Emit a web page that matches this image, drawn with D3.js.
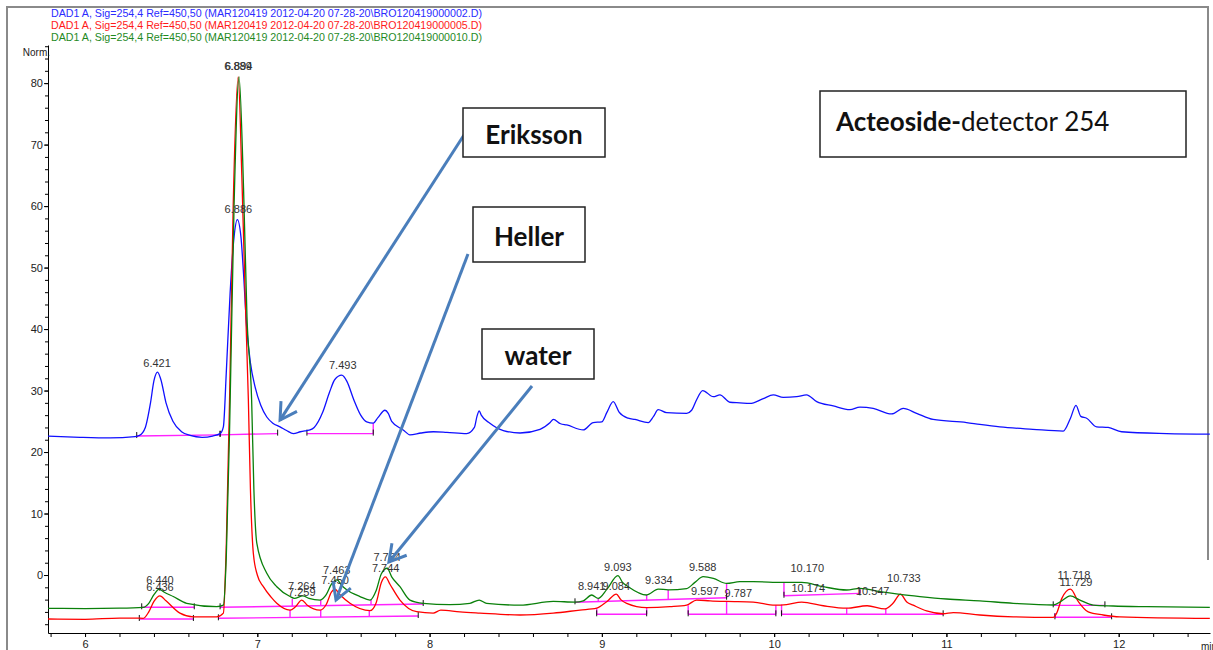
<!DOCTYPE html>
<html>
<head>
<meta charset="utf-8">
<script src="https://cdn.jsdelivr.net/npm/d3@7"></script>
<style>
  html, body { margin: 0; padding: 0; background: #fff; overflow: hidden; }
  svg { display: block; font-family: "Liberation Sans", Arial, sans-serif; }
</style>
</head>
<body>
<div id="app"></div>
<script>
// Header lines, one per run
var runFiles = [
  "DAD1 A, Sig=254,4 Ref=450,50 (MAR120419 2012-04-20 07-28-20\\BRO120419000002.D)",
  "DAD1 A, Sig=254,4 Ref=450,50 (MAR120419 2012-04-20 07-28-20\\BRO120419000005.D)",
  "DAD1 A, Sig=254,4 Ref=450,50 (MAR120419 2012-04-20 07-28-20\\BRO120419000010.D)"
];

// Traces: [time (min), signal (Norm.)]
var blueTrace = [
  [5.785, 22.6], [5.971, 22.4], [6.145, 22.3], [6.290, 22.5], [6.316, 22.7],
  [6.35, 24.0], [6.38, 28.0], [6.40, 31.6], [6.421, 33.0], [6.44, 31.8],
  [6.47, 28.0], [6.51, 25.0], [6.56, 23.3], [6.61, 22.7], [6.68, 22.4],
  [6.74, 22.6], [6.784, 23.0], [6.803, 24.1], [6.82, 33], [6.842, 45.8],
  [6.865, 55], [6.884, 57.8], [6.905, 55], [6.92, 49], [6.938, 40.4],
  [6.96, 34.5], [6.987, 30.6], [7.02, 27.6], [7.055, 25.7], [7.09, 24.7],
  [7.132, 24.1], [7.17, 23.5], [7.209, 23.0], [7.25, 23.3], [7.287, 23.5],
  [7.306, 23.6], [7.33, 24.0], [7.38, 26.5], [7.42, 29.8], [7.45, 31.8],
  [7.49, 32.5], [7.52, 31.5], [7.56, 28.5], [7.60, 26.0], [7.635, 24.9],
  [7.673, 24.7], [7.70, 25.6], [7.741, 26.8], [7.76, 26.3], [7.78, 25.0],
  [7.847, 23.6], [7.886, 22.8], [7.95, 23.1], [8.022, 23.3], [8.10, 23.2],
  [8.215, 23.0], [8.26, 24.0], [8.275, 25.8], [8.288, 26.7], [8.30, 26.0],
  [8.350, 24.7], [8.428, 23.5], [8.525, 23.1], [8.641, 23.7], [8.70, 24.8],
  [8.718, 25.3], [8.76, 24.6], [8.796, 24.4], [8.892, 23.6], [8.950, 24.8],
  [8.999, 24.9], [9.03, 26.5], [9.066, 28.2], [9.10, 26.5], [9.153, 25.5],
  [9.192, 25.3], [9.269, 24.8], [9.30, 25.8], [9.327, 26.9], [9.376, 26.4],
  [9.492, 26.3], [9.521, 26.8], [9.55, 28.5], [9.585, 30.0], [9.647, 29.0],
  [9.685, 29.3], [9.743, 28.1], [9.801, 28.0], [9.859, 27.9], [9.937, 28.7],
  [9.995, 29.3], [10.053, 28.9], [10.131, 29.0], [10.188, 29.3], [10.247, 28.2],
  [10.343, 27.5], [10.440, 26.9], [10.498, 27.3], [10.575, 27.1], [10.682, 26.2],
  [10.749, 27.1], [10.827, 26.3], [10.923, 25.3], [11.117, 24.8], [11.194, 24.5],
  [11.310, 24.1], [11.502, 23.7], [11.678, 23.4], [11.72, 25.5], [11.752, 27.6],
  [11.78, 25.8], [11.814, 25.5], [11.872, 24.1], [11.939, 24.0], [12.017, 23.3],
  [12.278, 23.0], [12.529, 22.9]
];

var redTrace = [
  [5.785, -7.15], [6.0, -7.2], [6.2, -7.0], [6.30, -7.0], [6.338, -7.04],
  [6.37, -6.0], [6.40, -4.3], [6.435, -3.4], [6.47, -4.2], [6.551, -6.2],
  [6.629, -6.8], [6.764, -6.8], [6.803, -6.2], [6.82, 5], [6.84, 30],
  [6.86, 60], [6.889, 81], [6.91, 65], [6.93, 45], [6.948, 28.5],
  [6.96, 14], [6.977, 3.5], [7.00, 0.0], [7.035, -1.9], [7.08, -3.6],
  [7.113, -4.6], [7.190, -5.7], [7.22, -5.2], [7.258, -4.07], [7.29, -4.9],
  [7.364, -5.7], [7.40, -4.8], [7.43, -2.8], [7.45, -2.3], [7.48, -3.2],
  [7.538, -4.6], [7.654, -5.8], [7.69, -4.5], [7.72, -1.2], [7.744, -0.3],
  [7.77, -1.5], [7.828, -4.07], [7.925, -5.97], [8.021, -6.2], [8.065, -5.7],
  [8.176, -6.0], [8.292, -6.2], [8.525, -6.5], [8.718, -6.2], [8.873, -5.7],
  [8.970, -5.4], [9.03, -4.3], [9.084, -3.1], [9.11, -4.0], [9.144, -4.6],
  [9.260, -5.3], [9.395, -5.15], [9.492, -4.9], [9.550, -4.07], [9.628, -4.2],
  [9.724, -4.3], [9.879, -4.4], [10.005, -4.9], [10.072, -4.8], [10.160, -4.4],
  [10.285, -5.0], [10.421, -5.4], [10.540, -5.0], [10.643, -5.5], [10.69, -4.6],
  [10.733, -3.1], [10.77, -4.4], [10.807, -4.9], [10.885, -5.85], [10.981, -6.3],
  [11.040, -6.1], [11.194, -6.5], [11.388, -6.8], [11.620, -6.9], [11.640, -6.2],
  [11.67, -3.8], [11.72, -2.3], [11.765, -4.3], [11.823, -6.0], [11.910, -6.5],
  [12.007, -6.8], [12.529, -7.05]
];

var greenTrace = [
  [5.785, -5.42], [6.0, -5.45], [6.2, -5.4], [6.338, -5.25], [6.37, -4.6],
  [6.40, -3.2], [6.431, -2.3], [6.46, -2.8], [6.512, -3.5], [6.590, -4.6],
  [6.764, -5.15], [6.803, -4.9], [6.82, 3], [6.84, 25], [6.865, 60],
  [6.894, 81], [6.92, 63], [6.94, 42], [6.967, 28.5], [6.98, 14],
  [6.997, 5.2], [7.055, 0.28], [7.113, -1.9], [7.190, -3.5], [7.215, -3.8],
  [7.264, -3.4], [7.30, -3.8], [7.364, -4.07], [7.40, -3.2], [7.43, -1.5],
  [7.463, -0.8], [7.49, -1.7], [7.519, -2.4], [7.596, -3.5], [7.654, -4.07],
  [7.69, -2.5], [7.72, 0.2], [7.754, 1.1], [7.78, -0.3], [7.828, -1.9],
  [7.886, -4.07], [7.963, -4.6], [8.118, -4.8], [8.234, -4.6], [8.288, -4.07],
  [8.331, -4.6], [8.525, -4.9], [8.718, -4.3], [8.844, -4.4], [8.892, -4.2],
  [8.941, -3.25], [8.979, -3.8], [9.03, -2.3], [9.093, -0.1], [9.12, -1.2],
  [9.153, -1.9], [9.260, -3.25], [9.327, -2.3], [9.385, -2.4], [9.492, -2.2],
  [9.54, -1.2], [9.588, -0.27], [9.647, -0.54], [9.724, -1.36], [9.801, -1.09],
  [9.879, -1.09], [10.053, -1.2], [10.160, -1.2], [10.285, -1.9], [10.421, -2.44],
  [10.498, -2.16], [10.614, -2.7], [10.730, -3.14], [10.846, -3.5], [11.001, -3.9],
  [11.194, -4.2], [11.388, -4.6], [11.620, -4.88], [11.669, -4.2], [11.718, -3.4],
  [11.775, -4.07], [11.852, -4.9], [11.968, -5.04], [12.162, -5.15], [12.529, -5.25]
];

// Integration baselines: [t1, v1, t2, v2]
var blueBaselines = [
  [6.300, 22.6, 6.784, 22.8], [6.784, 22.8, 7.118, 23.0], [7.288, 23.0, 7.673, 23.0]
];
var redBaselines = [
  [6.315, -7.15, 6.629, -7.15], [6.774, -7.04, 7.934, -6.67], [8.970, -6.39, 9.260, -6.39],
  [9.501, -6.39, 10.010, -6.39], [10.043, -6.39, 10.981, -6.39], [11.630, -6.88, 11.959, -6.88]
];
var greenBaselines = [
  [6.329, -5.25, 6.634, -5.25], [6.784, -5.25, 7.963, -4.72], [8.844, -4.44, 9.724, -3.69],
  [10.057, -3.37, 10.498, -2.98], [11.620, -4.93, 11.920, -4.93]
];

// Drop lines: [t, vBottom, vTop]
var blueDrops = [[7.673, 23.0, 24.7]];
var redDrops = [
  [7.190, -7.0, -5.7], [7.368, -6.9, -5.7], [7.650, -6.8, -5.8], [8.970, -6.39, -5.4],
  [9.260, -6.39, -5.3], [9.501, -6.39, -4.9], [9.724, -6.39, -4.3], [10.010, -6.39, -4.9],
  [10.043, -6.39, -4.8], [10.421, -6.39, -5.4], [10.648, -6.39, -5.5], [11.630, -6.88, -6.2]
];
var greenDrops = [
  [7.203, -5.1, -3.9], [7.368, -5.0, -4.07], [7.660, -4.85, -4.0], [8.979, -4.37, -3.8],
  [9.260, -4.1, -3.25], [9.385, -3.95, -2.4], [9.724, -3.69, -1.36], [10.057, -3.37, -1.2],
  [10.498, -2.98, -2.16]
];

// Peak labels: [text, time, signal where the label sits]
var blueLabels = [
  ["6.421", 6.418, 33.8], ["6.886", 6.89, 58.9], ["6.889", 6.888, 82.1], ["6.894", 6.892, 82.1],
  ["7.493", 7.496, 33.5]
];
var lowerLabels = [
  ["6.440", 6.435, -1.46], ["6.436", 6.435, -2.60], ["7.264", 7.258, -2.44], ["7.259", 7.258, -3.41],
  ["7.463", 7.461, 0.16], ["7.450", 7.451, -1.46], ["7.754", 7.754, 2.28], ["7.744", 7.745, 0.49],
  ["8.941", 8.941, -2.44], ["9.084", 9.084, -2.44], ["9.093", 9.093, 0.65], ["9.334", 9.331, -1.46],
  ["9.588", 9.585, 0.65], ["9.597", 9.598, -3.25], ["9.787", 9.792, -3.58], ["10.170", 10.192, 0.49],
  ["10.174", 10.198, -2.76], ["10.547", 10.572, -3.25], ["10.733", 10.753, -1.14],
  ["11.718", 11.740, -0.65], ["11.729", 11.752, -1.79]
];

// Axis ticks
var xMajorTicks = [6, 7, 8, 9, 10, 11, 12];
var yMajorTicks = [0, 10, 20, 30, 40, 50, 60, 70, 80];

// Call-out boxes and the trace point each arrow points at [time, signal]
var callouts = [
  { text: "Eriksson", box: [463, 108, 142, 49], tail: [464, 135], tip: [7.132, 25.2] },
  { text: "Heller", box: [473, 207, 112, 55], tail: [468, 254], tip: [7.457, -4.07] },
  { text: "water", box: [482, 329, 112, 50], tail: [532, 386], tip: [7.764, 2.11] }
];

var width = 1213, height = 650;

var svg = d3.select("#app").append("svg")
  .attr("width", width)
  .attr("height", height);

var x = d3.scaleLinear().domain([5.785, 12.53]).range([48, 1210]);
var y = d3.scaleLinear().domain([-9.43, 86.2]).range([633, 45]);

// outer frame
svg.append("path")
  .attr("d", "M7,650 L7,7 L1208,7 L1208,560")
  .attr("fill", "none")
  .attr("stroke", "#8a8a8a")
  .attr("stroke-width", 2);

// header
var headerColors = ["#2b2bff", "#ff1a1a", "#1f8a1f"];
svg.selectAll(".hdr")
  .data(runFiles)
  .enter().append("text")
  .attr("class", "hdr")
  .attr("x", 51)
  .attr("y", (d, i) => 17 + i * 12)
  .attr("font-size", 11.5)
  .attr("textLength", 431)
  .attr("lengthAdjust", "spacingAndGlyphs")
  .attr("fill", (d, i) => headerColors[i])
  .text(d => d);

// axes
var yMinor = svg.append("g")
  .attr("transform", "translate(48,0)")
  .call(d3.axisLeft(y).tickValues(d3.range(-8, 87, 2)).tickSize(3).tickSizeOuter(0).tickFormat(""));
yMinor.select(".domain").remove();

svg.append("g")
  .attr("transform", "translate(48,0)")
  .call(d3.axisLeft(y).tickValues(yMajorTicks).tickSize(4).tickPadding(1).tickSizeOuter(0))
  .call(g => g.selectAll("text").attr("font-size", 11).attr("fill", "#222").attr("font-family", "Liberation Sans, Arial, sans-serif"));

var xMinor = svg.append("g")
  .attr("transform", "translate(0,633)")
  .call(d3.axisBottom(x).tickValues(d3.range(5.8, 12.5, 0.2)).tickSize(4).tickSizeOuter(0).tickFormat(""));
xMinor.select(".domain").remove();

svg.append("g")
  .attr("transform", "translate(0,633)")
  .call(d3.axisBottom(x).tickValues(xMajorTicks).tickSize(4).tickSizeOuter(0).tickFormat(d3.format("d")))
  .call(g => g.selectAll("text").attr("font-size", 11).attr("fill", "#222").attr("font-family", "Liberation Sans, Arial, sans-serif"));

svg.append("text")
  .attr("x", 50).attr("y", 56)
  .attr("text-anchor", "end")
  .attr("font-size", 10)
  .attr("fill", "#222")
  .text("Norm.");

svg.append("text")
  .attr("x", 1201).attr("y", 650)
  .attr("font-size", 10)
  .attr("fill", "#222")
  .text("min");

// clip
svg.append("clipPath").attr("id", "plot")
  .append("rect").attr("x", 48).attr("y", 40).attr("width", 1165).attr("height", 593);

var plot = svg.append("g").attr("clip-path", "url(#plot)");

var line = d3.line()
  .x(d => x(d[0]))
  .y(d => y(d[1]))
  .curve(d3.curveMonotoneX);

function drawBaselines(segs, drops) {
  plot.selectAll(null).data(segs).enter().append("line")
    .attr("x1", d => x(d[0])).attr("y1", d => y(d[1]))
    .attr("x2", d => x(d[2])).attr("y2", d => y(d[3]))
    .attr("stroke", "#ff22ff").attr("stroke-width", 1.4);
  plot.selectAll(null).data(drops).enter().append("line")
    .attr("x1", d => x(d[0])).attr("y1", d => y(d[1]))
    .attr("x2", d => x(d[0])).attr("y2", d => y(d[2]))
    .attr("stroke", "#ff22ff").attr("stroke-width", 1.4);
  // black start/stop marks at the baseline ends
  var ends = [];
  segs.forEach(s => { ends.push([s[0], s[1]]); ends.push([s[2], s[3]]); });
  plot.selectAll(null).data(ends).enter().append("line")
    .attr("x1", d => x(d[0])).attr("y1", d => y(d[1]) - 4)
    .attr("x2", d => x(d[0])).attr("y2", d => y(d[1]) + 2)
    .attr("stroke", "#111").attr("stroke-width", 1);
}

drawBaselines(blueBaselines, blueDrops);
drawBaselines(redBaselines, redDrops);
drawBaselines(greenBaselines, greenDrops);

plot.append("path").datum(blueTrace)
  .attr("d", line).attr("fill", "none").attr("stroke", "#1010ff").attr("stroke-width", 1.3);
plot.append("path").datum(redTrace)
  .attr("d", line).attr("fill", "none").attr("stroke", "#ff0000").attr("stroke-width", 1.3);
plot.append("path").datum(greenTrace)
  .attr("d", line).attr("fill", "none").attr("stroke", "#0a800a").attr("stroke-width", 1.3);

// peak labels
svg.selectAll(".pk")
  .data(blueLabels.concat(lowerLabels))
  .enter().append("text")
  .attr("class", "pk")
  .attr("x", d => x(d[1]))
  .attr("y", d => y(d[2]))
  .attr("text-anchor", "middle")
  .attr("font-size", 11)
  .attr("fill", "#333")
  .text(d => d[0]);

// call-outs
var arrowColor = "#4a7ebb";
callouts.forEach(c => {
  var tx = x(c.tip[0]), ty = y(c.tip[1]);
  svg.append("line")
    .attr("x1", c.tail[0]).attr("y1", c.tail[1])
    .attr("x2", tx).attr("y2", ty)
    .attr("stroke", arrowColor).attr("stroke-width", 3);
  var ang = Math.atan2(c.tail[1] - ty, c.tail[0] - tx);
  var len = 19, spread = Math.PI / 6;
  var wing = [ang - spread, ang + spread].map(a => [tx + len * Math.cos(a), ty + len * Math.sin(a)]);
  svg.append("path")
    .attr("d", "M" + wing[0] + "L" + tx + "," + ty + "L" + wing[1])
    .attr("fill", "none").attr("stroke", arrowColor).attr("stroke-width", 3)
    .attr("stroke-linejoin", "miter");
  svg.append("rect")
    .attr("x", c.box[0]).attr("y", c.box[1])
    .attr("width", c.box[2]).attr("height", c.box[3])
    .attr("fill", "#fff").attr("stroke", "#222").attr("stroke-width", 1.5);
  svg.append("text")
    .attr("x", c.box[0] + c.box[2] / 2)
    .attr("y", c.box[1] + c.box[3] / 2 + 11)
    .attr("text-anchor", "middle")
    .attr("font-family", "Lato, 'Open Sans', sans-serif")
    .attr("font-weight", "bold")
    .attr("font-size", 26)
    .attr("fill", "#111")
    .text(c.text);
});

// title box
svg.append("rect")
  .attr("x", 820).attr("y", 91).attr("width", 366).attr("height", 66)
  .attr("fill", "#fff").attr("stroke", "#222").attr("stroke-width", 1.5);
var title = svg.append("text")
  .attr("x", 836).attr("y", 131)
  .attr("font-family", "Lato, 'Open Sans', sans-serif")
  .attr("font-size", 26)
  .attr("fill", "#111");
title.append("tspan").attr("font-weight", "bold").text("Acteoside-");
title.append("tspan").text("detector 254");
</script>
</body>
</html>
